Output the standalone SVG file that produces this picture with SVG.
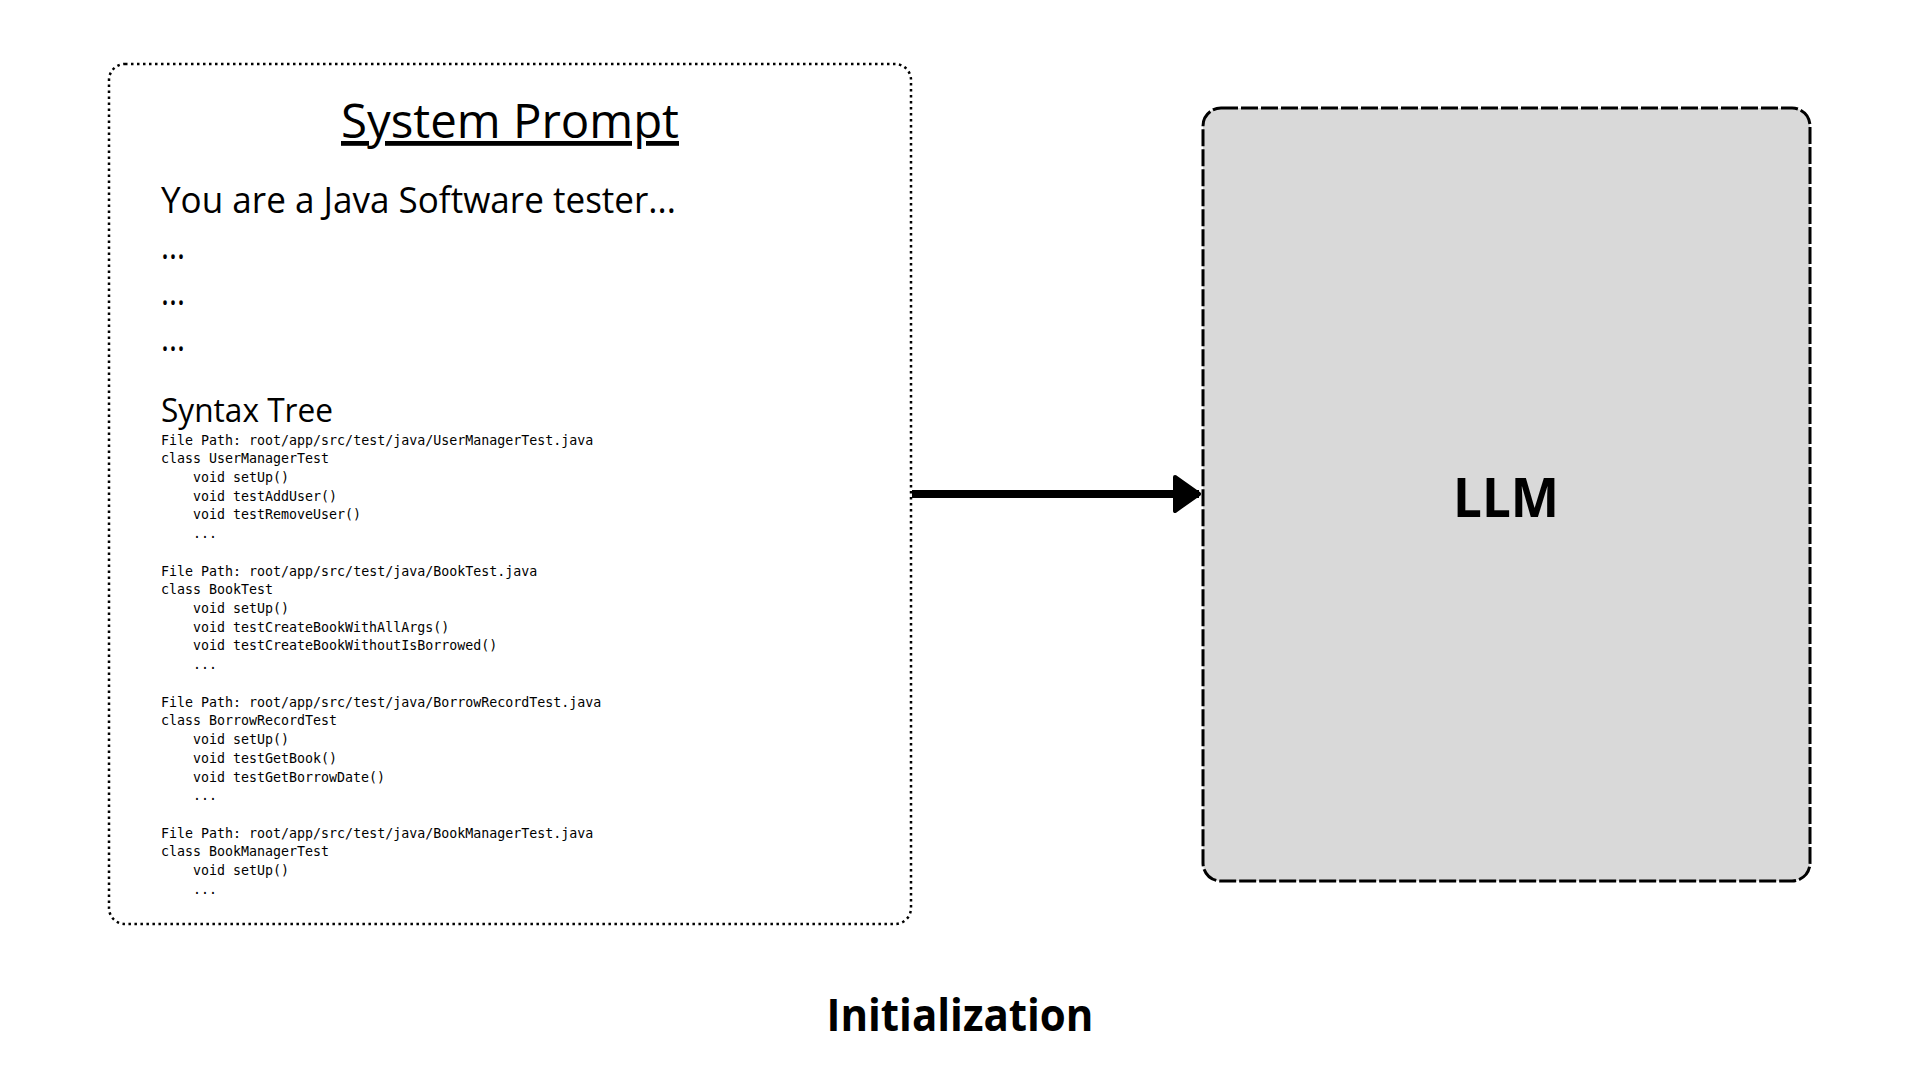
<svg xmlns="http://www.w3.org/2000/svg" width="1920" height="1080" viewBox="0 0 1920 1080">
  <style>
    .sans { font-family: "Open Sans", "Noto Sans", "Liberation Sans", sans-serif; fill: #000; }
    .bold { font-family: "Open Sans", "Noto Sans", "Liberation Sans", sans-serif; font-weight: 700; fill: #000; }
    .mono { font-family: "DejaVu Sans Mono", "Liberation Mono", monospace; font-size: 13.3px; fill: #000; }
    .prompt-box { fill: #ffffff; stroke: #000; stroke-width: 2.5; stroke-dasharray: 2.5 3.5; }
    .llm-box { fill: #d9d9d9; stroke: #000; stroke-width: 3; stroke-dasharray: 17 3; }
    .conn { fill: none; stroke: #000; stroke-width: 8; }
  </style>
  <defs>
    <marker id="arrowhead" markerUnits="userSpaceOnUse" markerWidth="32" markerHeight="42" viewBox="0 0 32 42" refX="27" refY="21" orient="auto">
      <path d="M3,4 L27,21 L3,38 Z" fill="#000" stroke="#000" stroke-width="4" stroke-linejoin="round"/>
    </marker>
  </defs>
  <rect width="1920" height="1080" fill="#ffffff"/>

  <g id="system-prompt">
    <rect class="prompt-box" x="109" y="64" width="802" height="860" rx="16"/>
    <text class="sans" x="510" y="138" font-size="48" text-anchor="middle" text-decoration="underline" textLength="338" lengthAdjust="spacingAndGlyphs">System Prompt</text>
    <text class="sans" x="161" y="213" font-size="37" textLength="515" lengthAdjust="spacingAndGlyphs">You are a Java Software tester...</text>
    <text class="sans" x="161" y="259" font-size="37" textLength="24" lengthAdjust="spacingAndGlyphs">...</text>
    <text class="sans" x="161" y="305" font-size="37" textLength="24" lengthAdjust="spacingAndGlyphs">...</text>
    <text class="sans" x="161" y="351" font-size="37" textLength="24" lengthAdjust="spacingAndGlyphs">...</text>
    <text class="sans" x="161" y="422" font-size="33" textLength="172" lengthAdjust="spacingAndGlyphs">Syntax Tree</text>
    <g class="mono">
      <text x="161" y="444.5">File Path: root/app/src/test/java/UserManagerTest.java</text>
      <text x="161" y="463.2">class UserManagerTest</text>
      <text x="193" y="481.9">void setUp()</text>
      <text x="193" y="500.7">void testAddUser()</text>
      <text x="193" y="519.4">void testRemoveUser()</text>
      <text x="193" y="538.1">...</text>
      <text x="161" y="575.5">File Path: root/app/src/test/java/BookTest.java</text>
      <text x="161" y="594.3">class BookTest</text>
      <text x="193" y="613.0">void setUp()</text>
      <text x="193" y="631.7">void testCreateBookWithAllArgs()</text>
      <text x="193" y="650.4">void testCreateBookWithoutIsBorrowed()</text>
      <text x="193" y="669.2">...</text>
      <text x="161" y="706.6">File Path: root/app/src/test/java/BorrowRecordTest.java</text>
      <text x="161" y="725.3">class BorrowRecordTest</text>
      <text x="193" y="744.1">void setUp()</text>
      <text x="193" y="762.8">void testGetBook()</text>
      <text x="193" y="781.5">void testGetBorrowDate()</text>
      <text x="193" y="800.2">...</text>
      <text x="161" y="837.7">File Path: root/app/src/test/java/BookManagerTest.java</text>
      <text x="161" y="856.4">class BookManagerTest</text>
      <text x="193" y="875.1">void setUp()</text>
      <text x="193" y="893.8">...</text>
    </g>
  </g>

  <g id="llm">
    <rect class="llm-box" x="1203" y="108" width="607" height="773" rx="18"/>
    <text class="bold" x="1506" y="517" font-size="54" text-anchor="middle" textLength="106" lengthAdjust="spacingAndGlyphs">LLM</text>
  </g>

  <g id="connectors">
    <path class="conn" d="M912,494 L1199,494" marker-end="url(#arrowhead)"/>
  </g>

  <g id="caption">
    <text class="bold" x="960" y="1031" font-size="44" text-anchor="middle" textLength="267" lengthAdjust="spacingAndGlyphs">Initialization</text>
  </g>
</svg>
